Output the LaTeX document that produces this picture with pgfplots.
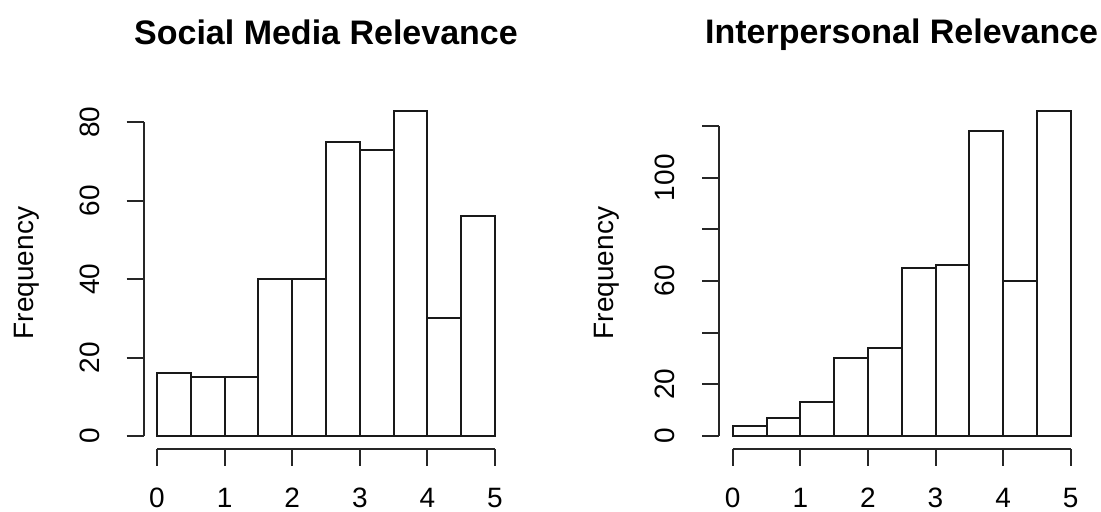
\documentclass[border=0pt]{standalone}
\usepackage{fontspec}
\setmainfont{Liberation Sans}
\usepackage{pgfplots}
\pgfplotsset{compat=1.18}
\pgfplotsset{
  rhist/.style={
    scale only axis, width=182.5pt, height=175.75pt,
    anchor=south west,
    xmin=-0.2, xmax=5.2,
    axis x line*=bottom, axis y line*=left,
    axis line style={draw=none},
    tick align=outside,
    major tick length=8.5pt,
    tick style={line width=1pt, black!85},
    xtick={0,1,2,3,4,5}, xticklabels={0,1,2,3,4,5},
    ticklabel style={font=\fontsize{14}{16}\selectfont},
    yticklabel style={rotate=90},
    xticklabel shift=7.5pt,
    yticklabel shift=10pt,
    clip=false,
    /pgf/number format/assume math mode=true,
  }
}
\begin{document}
\begin{tikzpicture}
\useasboundingbox (0,0) rectangle (550.5pt,256pt);
\begin{axis}[rhist, at={(71.75pt,31.5pt)},
  ymin=-3.32, ymax=86.32,
  ytick={0,20,40,60,80}, yticklabels={0,20,40,60,80}]
\addplot[ybar interval, fill=white, draw=black!90, line width=1pt] coordinates {
(0,16) (0.5,15) (1,15) (1.5,40) (2,40) (2.5,75) (3,73) (3.5,83) (4,30) (4.5,56) (5,56)};
\draw[line width=1pt, black!85] (axis cs:0,-3.32) -- (axis cs:5,-3.32);
\draw[line width=1pt, black!85] (axis cs:-0.2,0) -- (axis cs:-0.2,80);
\end{axis}
\begin{axis}[rhist, at={(359.6pt,31.5pt)},
  ymin=-5.04, ymax=131.04,
  ytick={0,20,40,60,80,100,120}, yticklabels={0,20,,60,,100,}]
\addplot[ybar interval, fill=white, draw=black!90, line width=1pt] coordinates {
(0,4) (0.5,7) (1,13) (1.5,30) (2,34) (2.5,65) (3,66) (3.5,118) (4,60) (4.5,126) (5,126)};
\draw[line width=1pt, black!85] (axis cs:0,-5.04) -- (axis cs:5,-5.04);
\draw[line width=1pt, black!85] (axis cs:-0.2,0) -- (axis cs:-0.2,120);
\end{axis}
\node[font=\fontsize{17}{20}\selectfont\bfseries, anchor=base] at (163pt,233.7pt) {Social Media Relevance};
\node[font=\fontsize{17}{20}\selectfont\bfseries, anchor=base] at (450.8pt,234pt) {Interpersonal Relevance};
\node[font=\fontsize{14}{16}\selectfont, rotate=90, anchor=base] at (16.65pt,119.5pt) {Frequency};
\node[font=\fontsize{14}{16}\selectfont, rotate=90, anchor=base] at (306.5pt,119.5pt) {Frequency};
\end{tikzpicture}
\end{document}
